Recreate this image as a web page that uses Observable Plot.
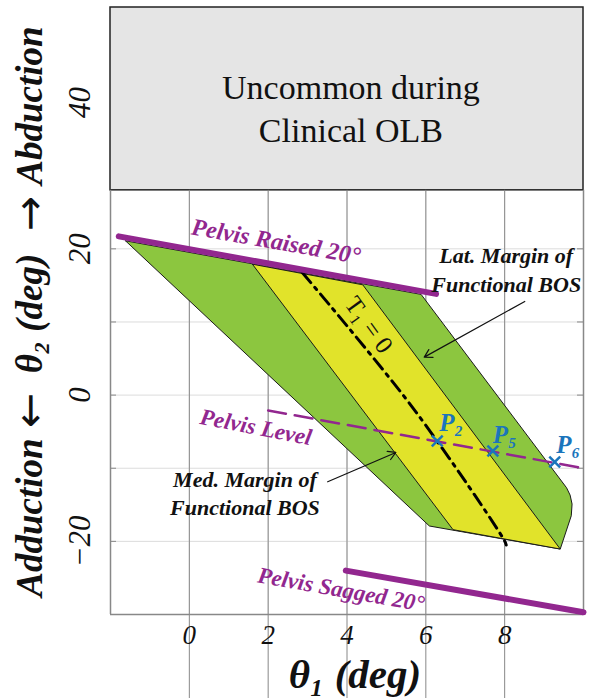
<!DOCTYPE html>
<html>
<head>
<meta charset="utf-8">
<script src="https://cdn.jsdelivr.net/npm/d3@7"></script>
<script src="https://cdn.jsdelivr.net/npm/@observablehq/plot@0.6"></script>
<style>
  html, body { margin: 0; padding: 0; background: #fff; }
  #chart svg { display: block; }
</style>
</head>
<body>
<div id="chart"></div>
<script>
// ---- data ----
const xTicks = [0, 2, 4, 6, 8];
const yTickLabels = [-20, 0, 20, 40];
const yGridValues = [-20, -10, 0, 10, 20];

// Functional BOS (green) outline
const greenX = [-1.62, 5.88, 9.57, 9.66, 9.71, 9.69, 9.41, 6.09, -1.62];
const greenY = [21.1, 13.77, -12.67, -13.67, -14.9, -16.5, -21.05, -17.9, 21.1];
// Central band (yellow)
const yellowX = [1.6, 4.4, 9.41, 6.69, 1.6];
const yellowY = [17.9, 15.08, -21.05, -18.4, 17.9];

// Pelvis lines
const raisedX = [-1.79, 6.26];
const raisedY = [21.7, 13.84];
const saggedX = [3.97, 10.0];
const saggedY = [-24.0, -29.7];
const levelX = [2.0, 10.0];
const levelY = [-2.1, -10.0];

// T1 = 0 curve
const tZeroX = [2.87, 5.67, 8.00, 8.04];
const tZeroY = [16.72, -1.74, -19.96, -20.5];

// Marked points
const pointNames = ["P₂", "P₅", "P₆"];
const pointX = [6.29, 7.70, 9.27];
const pointY = [-6.28, -7.65, -9.15];
const pointLabelX = [6.34, 7.70, 9.31];
const pointLabelY = [-3.8, -5.4, -6.8];

// Uncommon region
const uncommonX = [-2, 10];
const uncommonY = [28, 53];

// Y axis title pieces (text, pixel offset of its centre below the frame top)
const yTitleParts = ["Adduction", "←", "θ₂ (deg)", "→", "Abduction"];
const yTitleOffsets = [510, 403, 306, 206, 98];

// Annotation arrows
const latArrow = {x1: 8.51, y1: 12.8, x2: 5.96, y2: 5.19};
const medArrow = {x1: 3.51, y1: -11.85, x2: 5.24, y2: -7.84};

// ---- build tables ----
const pts = (xs, ys) => xs.map((x, i) => ({x, y: ys[i]}));
const green = pts(greenX, greenY);
const yellow = pts(yellowX, yellowY);
const raised = pts(raisedX, raisedY);
const sagged = pts(saggedX, saggedY);
const level = pts(levelX, levelY);
const tZero = pts(tZeroX, tZeroY);
const points = pointNames.map((n, i) => ({n, x: pointX[i], y: pointY[i], lx: pointLabelX[i], ly: pointLabelY[i]}));

const SERIF = "'Liberation Serif', 'Times New Roman', Times, serif";
const PURPLE = "#92278f";
const BLUE = "#1b75bc";
const GREEN = "#8cc63f";
const YELLOW = "#e1e32a";

const bi = {fontFamily: SERIF, fontStyle: "italic", fontWeight: "bold"};
const isArrow = t => t === "←" || t === "→";

const chart = Plot.plot({
  width: 589,
  height: 698,
  marginLeft: 110,
  marginRight: 6,
  marginTop: 7,
  marginBottom: 84,
  style: {fontFamily: SERIF, background: "#fff"},
  x: {domain: [-2, 10], axis: null},
  y: {domain: [-30, 53], axis: null},
  marks: [
    Plot.gridX(xTicks, {stroke: "#dcdcdc", strokeOpacity: 1, strokeWidth: 1}),
    Plot.gridY(yGridValues, {stroke: "#dcdcdc", strokeOpacity: 1, strokeWidth: 1}),
    Plot.rect([{}], {x1: uncommonX[0], x2: uncommonX[1], y1: uncommonY[0], y2: uncommonY[1], fill: "#e5e5e5", stroke: "#222", strokeWidth: 1.5}),
    Plot.text(["Uncommon during\nClinical OLB"], {x: 4.1, y: 39.4, fontSize: 34, fontFamily: SERIF, lineHeight: 1.24, fill: "#111"}),
    // frame & inward ticks
    Plot.ruleX([uncommonX[0]], {y1: -30, y2: 28, stroke: "#888", strokeWidth: 1.5}),
    Plot.ruleX([uncommonX[1]], {y1: -30, y2: 28, stroke: "#888", strokeWidth: 1.5}),
    Plot.ruleY([-30], {stroke: "#888", strokeWidth: 1.5}),
    Plot.ruleY(yGridValues, {insetRight: 467, stroke: "#888"}),
    Plot.ruleY(yGridValues, {insetLeft: 467, stroke: "#888"}),
    Plot.ruleX(xTicks, {y1: -30, y2: 28, insetTop: 600, stroke: "#888"}),
    // tick labels
    Plot.text(xTicks, {x: d => d, frameAnchor: "bottom", textAnchor: "middle", lineAnchor: "middle", dy: 21, fontSize: 27, fontStyle: "italic", fontFamily: SERIF, fill: "#111"}),
    Plot.text(yTickLabels, {y: d => d, frameAnchor: "left", textAnchor: "middle", lineAnchor: "middle", dx: -30, rotate: -90, fontSize: 31, fontStyle: "italic", fontFamily: SERIF, fill: "#111", text: d => d < 0 ? "\u2212" + Math.abs(d) : String(d)}),
    // axis titles
    Plot.text(["θ₁ (deg)"], {frameAnchor: "bottom", textAnchor: "middle", lineAnchor: "middle", dx: 8, dy: 60, fontSize: 41, ...bi, fill: "#111"}),
    ...yTitleParts.map((t, i) => Plot.text([t], isArrow(t)
      ? {frameAnchor: "top-left", textAnchor: "middle", lineAnchor: "middle", dx: -80, dy: yTitleOffsets[i], rotate: -90, fontSize: 42, fontFamily: "DejaVu Sans", fill: "#111"}
      : {frameAnchor: "top-left", textAnchor: "middle", lineAnchor: "middle", dx: -80, dy: yTitleOffsets[i], rotate: -90, fontSize: 37, ...bi, fill: "#111"})),
    // regions
    Plot.line(green, {x: "x", y: "y", fill: GREEN, stroke: "#1a1a1a", strokeWidth: 1}),
    Plot.line(yellow, {x: "x", y: "y", fill: YELLOW, stroke: "#1a1a1a", strokeWidth: 1}),
    // T1 = 0
    Plot.line(tZero, {x: "x", y: "y", stroke: "#000", strokeWidth: 3, strokeDasharray: "13,6,3,6", curve: "catmull-rom"}),
    Plot.text(["T₁ = 0"], {x: 4.55, y: 9.6, rotate: 54, fontSize: 25, fontFamily: SERIF, fill: "#111"}),
    // pelvis lines
    Plot.line(level, {x: "x", y: "y", stroke: PURPLE, strokeWidth: 2.5, strokeDasharray: "18,9"}),
    Plot.line(raised, {x: "x", y: "y", stroke: PURPLE, strokeWidth: 6, strokeLinecap: "round"}),
    Plot.line(sagged, {x: "x", y: "y", stroke: PURPLE, strokeWidth: 6, strokeLinecap: "round"}),
    Plot.text(["Pelvis Raised 20°"], {x: 2.2, y: 21.0, rotate: 10, fontSize: 24, ...bi, fill: PURPLE}),
    Plot.text(["Pelvis Level"], {x: 1.69, y: -4.4, rotate: 11, fontSize: 23, ...bi, fill: PURPLE}),
    Plot.text(["Pelvis Sagged 20°"], {x: 3.85, y: -26.6, rotate: 10, fontSize: 23, ...bi, fill: PURPLE}),
    // points
    Plot.dot(points, {x: "x", y: "y", symbol: "times", r: 5, stroke: BLUE, strokeWidth: 2.5}),
    Plot.text(points, {x: "lx", y: "ly", text: "n", textAnchor: "start", fontSize: 25, ...bi, fill: BLUE}),
    // annotations
    Plot.text(["Lat. Margin of\nFunctional BOS"], {x: 8.04, y: 17.35, fontSize: 22, ...bi, fill: "#111", lineHeight: 1.3}),
    Plot.text(["Med. Margin of\nFunctional BOS"], {x: 1.41, y: -13.25, fontSize: 22, ...bi, fill: "#111", lineHeight: 1.3}),
    Plot.arrow([latArrow], {x1: "x1", y1: "y1", x2: "x2", y2: "y2", stroke: "#111", strokeWidth: 1.2, headLength: 11}),
    Plot.arrow([medArrow], {x1: "x1", y1: "y1", x2: "x2", y2: "y2", stroke: "#111", strokeWidth: 1.2, headLength: 11})
  ]
});
document.getElementById("chart").appendChild(chart);
</script>
</body>
</html>
